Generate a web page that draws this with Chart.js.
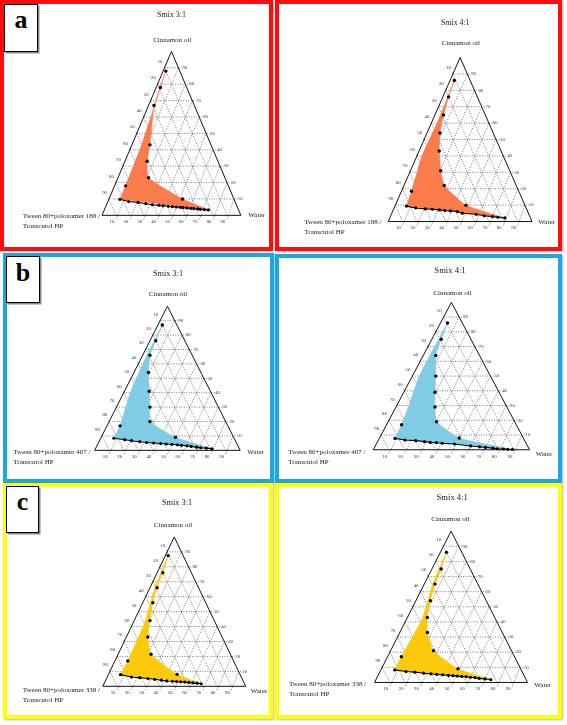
<!DOCTYPE html>
<html><head><meta charset="utf-8">
<script src="https://cdn.jsdelivr.net/npm/chart.js@4.4.1/dist/chart.umd.min.js"></script>
<style>
html,body{margin:0;padding:0;background:#fff;}
body{width:567px;height:725px;position:relative;overflow:hidden;font-family:"Liberation Serif","DejaVu Serif",serif;}
.panel{position:absolute;box-sizing:border-box;background:#fff;box-shadow:1px 1px 2px rgba(0,0,0,0.3);}
.lab{position:absolute;white-space:nowrap;color:#1a1a1a;line-height:1;}
.tag{position:absolute;box-sizing:border-box;border:1.5px solid #000;background:#fff;box-shadow:1.5px 1.5px 0 #8a8a8a;}
.tag span{position:absolute;left:0;right:0;text-align:center;font-weight:bold;font-size:26px;line-height:1;color:#000;}
canvas{position:absolute;}
</style></head><body>
<script>
// ---------- text ----------
const panelTitles = ["Smix 3:1","Smix 4:1","Smix 3:1","Smix 4:1","Smix 3:1","Smix 4:1"];
const oilName = "Cinnamon oil";
const waterName = "Water";
const smixNames = ["Tween 80+poloxamer 188 /","Tween 80+poloxamer 188 /","Tween 80+poloxamer 407 /","Tween 80+poloxamer 407 /","Tween 80+poloxamer 338 /","Tween 80+poloxamer 338 /"];
const smixName2 = "Transcutol HP";
const rowLetters = ["a","b","c"];
const tickLabels = [10,20,30,40,50,60,70,80,90];

// ---------- data: [oil %, water %]  (Smix = 100 - oil - water) ----------
// a: Tween 80 + poloxamer 188 / Transcutol HP
const a1Right = [[88,2],[78,3],[67,4],[43,13],[33,16],[23,22],[10,53]];
const a1Base  = [[3.3,75],[3.5,72],[3.7,69],[3.9,67],[4.1,64],[4.3,62],[4.5,59],[4.7,56],[4.9,54],[5.1,51],[5.3,48],[5.5,45],[5.9,41],[6.1,38],[6.5,33],[7.1,28],[7.9,22],[8.4,15],[9.8,8]];
const a1Left  = [[18,8]];
const a1Bend  = [[43,7]];

const a2Right = [[86,3],[76,4],[65,6],[54,9],[43,14],[31,21],[22,28],[10,49]];
const a2Base  = [[2.2,80],[2.6,75],[3,71],[3.5,65],[4.4,59],[5.1,49],[6.1,45],[6.5,40],[6.7,36],[7.1,32],[7.5,27],[7.7,22],[8.3,15],[9.4,8]];
const a2Left  = [[18.5,7]];
const a2Bend  = [[40,3.5],[62,4]];

// b: Tween 80 + poloxamer 407 / Transcutol HP
const b1Right = [[87,3],[76,4],[66,5],[54,10],[41,17],[30,23],[20,28],[9,51]];
const b1Base  = [[1.1,80],[1.5,76],[1.8,72],[2.2,69],[2.7,65],[3.1,62],[3.5,58],[3.8,55],[4.2,51],[4.4,47],[4.7,43],[5.1,38],[5.4,33],[6,28],[6.7,22],[7.4,17],[8.4,9]];
const b1Left  = [[17,9]];
const b1Bend  = [[40,4.5],[64,3]];

const b2Right = [[86,4.5],[75,6],[64,8],[50,15],[39,20],[29,25],[19,31],[8,51]];
const b2Base  = [[0.2,89],[0.3,86],[0.5,83],[0.7,79],[1.1,76],[1.6,71],[2,67],[2.6,61],[3.9,50],[4.4,42],[4.8,38],[5,34],[5.5,30],[6.2,24],[6.6,17],[7.7,10]];
const b2Left  = [[17,9.6]];
const b2Bend  = [[29,8],[50,4.5]];

// c: Tween 80 + poloxamer 338 / Transcutol HP
const c1Right = [[87.5,2],[76,4],[66,5],[56,7],[44,11],[33,15],[21.5,23],[8,48]];
const c1Base  = [[1.7,68],[2.1,65],[2.3,62],[2.6,59],[2.8,56],[3,53],[3.2,50],[3.4,47],[3.6,43],[4.1,39],[4.7,34],[5.2,29],[5.8,23],[6.2,17],[7.8,8.5]];
const c1Left  = [[17,9]];
const c1Bend  = [[43,8],[66,3.5]];

const c2Right = [[86,4],[75,6],[65,7],[54,9.5],[43,13],[33,18],[21,28],[9,50]];
const c2Base  = [[1.9,75],[2.3,71],[2.7,67],[3.2,64],[3.4,61],[3.8,58],[4,55],[4.2,52],[4.5,49],[4.7,46],[5.1,42],[5.3,38],[5.7,34],[6.1,29],[6.8,23],[7.2,17],[8.3,9]];
const c2Left  = [[17,9]];
const c2Bend  = [[43,10],[65,5.5]];

const panelData = [
  {right:a1Right, base:a1Base, left:a1Left, bend:a1Bend},
  {right:a2Right, base:a2Base, left:a2Left, bend:a2Bend},
  {right:b1Right, base:b1Base, left:b1Left, bend:b1Bend},
  {right:b2Right, base:b2Base, left:b2Left, bend:b2Bend},
  {right:c1Right, base:c1Base, left:c1Left, bend:c1Bend},
  {right:c2Right, base:c2Base, left:c2Left, bend:c2Bend}
];

// ---------- layout (page pixels) ----------
const RED='#ff0d0d', BLUE='#1ea6e0', YEL='#ffff00';
const layout = [
 {box:[0,0,273,251],   border:RED,  fill:'#fa7b4c', tri:[101,244,218.3,49],      title:[171.5,15],  tfs:8,   oil:[172.3,40.7], smix:[22.7,216],  water:[248.3,215]},
 {box:[275,0,287,251], border:RED,  fill:'#fa7b4c', tri:[387.3,535.3,224.7,55.3], title:[455.3,22.7],tfs:7.8, oil:[460.7,43.3], smix:[304.3,222.7],water:[538.3,222.7]},
 {box:[3,253,271,230], border:BLUE, fill:'#80cbe5', tri:[93.3,243.3,453.3,304],  title:[168,274],   tfs:8.3, oil:[168,294],    smix:[13.3,452.7], water:[247.3,452.7]},
 {box:[275,254,287,229],border:BLUE,fill:'#80cbe5', tri:[372,532.7,452.7,300],   title:[450,270.7], tfs:8.6, oil:[452.5,293.3],smix:[288.3,452.7],water:[535.7,454]},
 {box:[3,483,270,236], border:YEL,  fill:'#fdc90b', tri:[101.7,249,689.3,534.7], title:[177,503],   tfs:8.3, oil:[173,525.7],  smix:[22.7,690.7], water:[250.7,691.3]},
 {box:[275,483,287,236],border:YEL, fill:'#fdc90b', tri:[373.3,530.7,685.3,528.7],title:[452.2,497.3],tfs:8.6,oil:[450.5,519.7],smix:[289,684.7], water:[534.3,685.3]}
];
const tags = [[4,4,34,48,7.5],[6,256,34,47,260],[6,486,33,47,489.5]];

function tern(o, w){ return {x:(w + o/2)/100, y:o/100}; }
function addText(txt, x, y, fs, center){
  const d=document.createElement('div'); d.className='lab'; d.textContent=txt;
  d.style.fontSize=fs+'px'; d.style.left=x+'px'; d.style.top=(y-fs*0.5)+'px';
  if(center) d.style.transform='translateX(-50%)';
  document.body.appendChild(d);
}

const tickPlugin = {
  id:'ternTicks',
  afterDatasetsDraw(chart){
    const {ctx, scales:{x, y}} = chart;
    ctx.save();
    ctx.font='4.8px "Liberation Serif", serif';
    ctx.fillStyle='#333'; ctx.textAlign='center'; ctx.textBaseline='middle';
    for (const t of tickLabels){
      let p = tern(100-t, 0);
      ctx.fillText(String(t), x.getPixelForValue(p.x)-4.4, y.getPixelForValue(p.y)-6.3);
      p = tern(t, 100-t);
      ctx.fillText(String(t), x.getPixelForValue(p.x)+6.3, y.getPixelForValue(p.y));
      p = tern(0, t);
      ctx.fillText(String(t), x.getPixelForValue(p.x)-4, y.getPixelForValue(p.y)+6.5);
    }
    ctx.restore();
  }
};

// panels + tags
layout.forEach((P)=>{
  const d=document.createElement('div'); d.className='panel';
  const [bx,by,bw,bh]=P.box;
  d.style.left=bx+'px'; d.style.top=by+'px'; d.style.width=bw+'px'; d.style.height=bh+'px';
  d.style.border='4px solid '+P.border;
  document.body.appendChild(d);
});
tags.forEach((t,i)=>{
  const d=document.createElement('div'); d.className='tag';
  d.style.left=t[0]+'px'; d.style.top=t[1]+'px'; d.style.width=t[2]+'px'; d.style.height=t[3]+'px';
  const s=document.createElement('span'); s.textContent=rowLetters[i];
  s.style.top=(t[4]-t[1]-1.5)+'px';
  d.appendChild(s); document.body.appendChild(d);
});

layout.forEach((P,i)=>{
  const g = panelData[i];
  const [bx,by,bw,bh]=P.box;
  const [L,R,B,A]=P.tri;
  const cv=document.createElement('canvas');
  cv.width=bw; cv.height=bh; cv.style.left=bx+'px'; cv.style.top=by+'px';
  cv.style.width=bw+'px'; cv.style.height=bh+'px';
  document.body.appendChild(cv);
  const xmin=(bx-L)/(R-L), xmax=(bx+bw-L)/(R-L);
  const ymin=-(by+bh-B)/(B-A), ymax=(B-by)/(B-A);

  const ds=[];
  // dots on band edges
  ds.push({data:[...g.right, ...g.left].map(p=>tern(p[0],p[1])), showLine:false, pointRadius:1.7,
    pointBackgroundColor:'#000', pointBorderWidth:0, borderColor:'#000', clip:false, order:0});
  // lower boundary line with dots
  ds.push({data:g.base.map(p=>tern(p[0],p[1])), showLine:true, borderColor:'#000', borderWidth:1.1,
    pointRadius:1.6, pointBackgroundColor:'#000', pointBorderWidth:0, tension:0, clip:false, order:1});
  // filled region: leftmost corner -> left edge -> top -> right edge -> tip
  const baseLeft = g.base[g.base.length-1], tip = g.base[0];
  const poly = [baseLeft, ...g.left, ...g.bend, ...g.right, tip];
  ds.push({data:poly.map(p=>tern(p[0],p[1])), showLine:true, fill:'shape', backgroundColor:P.fill,
    borderColor:P.fill, borderWidth:0.6, pointRadius:0, tension:0.15, clip:false, order:2});
  // triangle outline
  ds.push({data:[tern(100,0),tern(0,0),tern(0,100),tern(100,0)], showLine:true, borderColor:'#111',
    borderWidth:1, pointRadius:0, tension:0, clip:false, order:3});
  // dotted grid (with short extensions toward the tick labels)
  const ext = 2.5;
  for (const t of tickLabels){
    const lines=[
      [tern(t,0),tern(t,100-t+ext)],          // constant oil -> right-edge labels
      [tern(-ext,t+ext/2),tern(100-t,t)],     // constant water -> bottom labels
      [tern(0,100-t),tern(100-t+ext/2,-ext/2)]// constant Smix -> left-edge labels
    ];
    for (const ln of lines){
      ds.push({data:ln, showLine:true, borderColor:'#333', borderWidth:0.65, borderDash:[1,1.5],
        pointRadius:0, tension:0, clip:false, order:4});
    }
  }

  new Chart(cv, {
    type:'line',
    data:{datasets:ds},
    options:{
      responsive:false, animation:false, devicePixelRatio:1,
      layout:{padding:0},
      plugins:{legend:{display:false}, tooltip:{enabled:false}},
      events:[],
      scales:{
        x:{type:'linear', display:false, min:xmin, max:xmax},
        y:{type:'linear', display:false, min:ymin, max:ymax}
      }
    },
    plugins:[tickPlugin]
  });

  addText(panelTitles[i], P.title[0], P.title[1], P.tfs, true);
  addText(oilName, P.oil[0], P.oil[1], 7, true);
  addText(smixNames[i], P.smix[0], P.smix[1], 7, false);
  addText(smixName2, P.smix[0], P.smix[1]+10, 7, false);
  addText(waterName, P.water[0], P.water[1], 7, false);
});
</script>
</body></html>
